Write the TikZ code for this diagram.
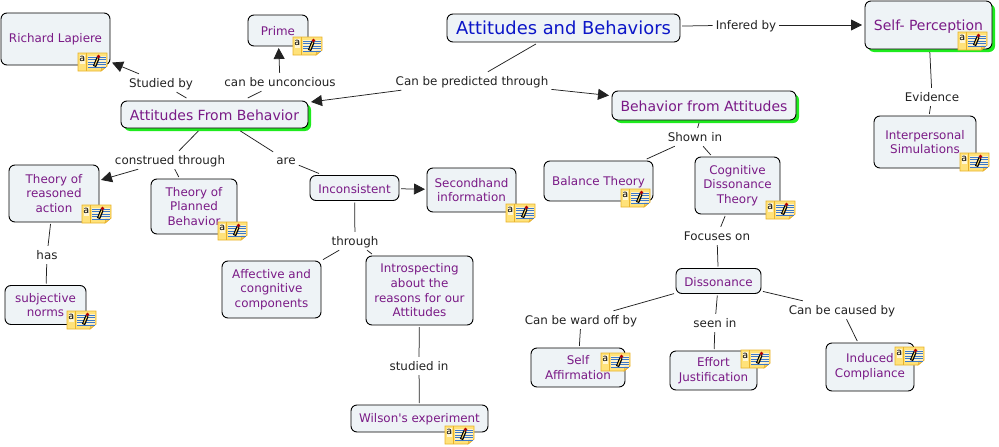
\documentclass[tikz,border=0pt]{standalone}
\usepackage{fontspec}
\setmainfont{DejaVu Sans}
\usetikzlibrary{arrows.meta}
\usetikzlibrary{shadows}
\definecolor{boxfill}{HTML}{EEF3F6}
\definecolor{conceptpurple}{HTML}{7A1A86}
\definecolor{rootblue}{HTML}{0C16C8}
\definecolor{glowgreen}{HTML}{1EEB1E}
\definecolor{noteyellow}{HTML}{FFE27A}
\definecolor{noteedge}{HTML}{E8B22A}
\definecolor{noteline}{HTML}{3C78C8}
\definecolor{linkgray}{HTML}{222222}
\tikzset{
	concept/.style={draw=black,line width=0.9pt,fill=boxfill,rounded corners=6pt,align=center,inner sep=0pt,outer sep=2pt,text=conceptpurple,font=\fontsize{11.9}{14.7}\selectfont},
	oneline/.style={text height=10.5pt},
	glowing/.style={general shadow={fill=glowgreen,shadow xshift=3pt,shadow yshift=-3pt},outer sep=3pt,text height=13pt,font=\fontsize{14}{14.7}\selectfont},
	linkname/.style={inner sep=3pt,text height=10pt,text depth=2pt,text=linkgray,font=\fontsize{11.9}{14.7}\selectfont},
	link/.style={draw=linkgray,line width=0.75pt},
	linkarrow/.style={link,-{Triangle[length=11pt,width=11pt]}},
	noteicon/.pic={
		\path[draw=noteedge,line width=0.9pt,fill=noteyellow] (0,0) -- (29,0) -- (29,13) -- (23,18) -- (0,18) -- cycle;
		\path[draw=noteedge,line width=0.5pt,fill=noteedge!70] (29,13) -- (24,13) -- (23,18) -- cycle;
		\draw[noteedge,line width=0.5pt] (8.5,0) -- (8.5,18);
		\fill[white,opacity=0.6] (10,3) rectangle (27.5,14);
		\foreach \ypos in {4,6.5,9,11.5,14} {
			\draw[noteline,line width=1pt] (10,\ypos) -- (27.5,\ypos);
		}
		\fill[white,opacity=0.7] (1.5,1.5) rectangle (7,11);
		\draw[black,line width=3.4pt] (16.5,13.5) -- (20,5);
		\draw[noteyellow,line width=0.9pt] (16.8,12.5) -- (19.8,5.5);
		\fill[red!70!black] (20.5,3.5) circle (1.9pt);
		\node[inner sep=0pt,text=black,font=\fontsize{9.5}{9.5}\selectfont] (-letter) at (4.2,5.5) {a};
	},
}
\begin{document}
\begin{tikzpicture}[x=1pt,y=-1pt]
	\useasboundingbox (0,0) rectangle (999,447);
	% concepts
	\node[concept,text=rootblue,text height=13pt,minimum width=233pt,minimum height=28pt,font=\fontsize{17.9}{20}\selectfont] (attBehaviors) at (563.5,28) {Attitudes and Behaviors};
	\node[concept,glowing,minimum width=187pt,minimum height=27pt] (attFrom) at (214.5,114.5) {Attitudes From Behavior};
	\node[concept,glowing,minimum width=184pt,minimum height=29pt] (behFrom) at (704,105.5) {Behavior from Attitudes};
	\node[concept,glowing,minimum width=127pt,minimum height=48pt] (selfPerception) at (928.5,25) {Self- Perception};
	\node[concept,minimum width=109pt,minimum height=52pt] (lapiere) at (55.5,39) {Richard Lapiere};
	\node[concept,oneline,minimum width=60pt,minimum height=31pt] (prime) at (278,30.5) {Prime};
	\node[concept,minimum width=102pt,minimum height=52pt] (simulations) at (925,142) {Interpersonal\\Simulations};
	\node[concept,minimum width=90pt,minimum height=57pt] (reasoned) at (54,193.5) {Theory of\\reasoned\\action};
	\node[concept,minimum width=86pt,minimum height=55pt] (planned) at (194,206.5) {Theory of\\Planned\\Behavior};
	\node[concept,oneline,minimum width=89pt,minimum height=25pt] (inconsistent) at (354.5,188) {Inconsistent};
	\node[concept,minimum width=89pt,minimum height=44pt] (secondhand) at (471.5,190) {Secondhand\\information};
	\node[concept,oneline,minimum width=109pt,minimum height=40pt] (balance) at (598.5,181) {Balance Theory};
	\node[concept,minimum width=85pt,minimum height=57pt] (cognitive) at (737.5,185.5) {Cognitive\\Dissonance\\Theory};
	\node[concept,oneline,minimum width=85pt,minimum height=25pt] (dissonance) at (718.5,281) {Dissonance};
	\node[concept,minimum width=99pt,minimum height=57pt] (affective) at (271.5,289.5) {Affective and\\congnitive\\components};
	\node[concept,minimum width=107pt,minimum height=69pt] (introspecting) at (419.5,290.5) {Introspecting\\about the\\reasons for our\\Attitudes};
	\node[concept,minimum width=81pt,minimum height=39pt] (norms) at (45.5,305) {subjective\\norms};
	\node[concept,oneline,minimum width=137pt,minimum height=27pt] (wilson) at (419.5,418.5) {Wilson\textquotesingle s experiment};
	\node[concept,minimum width=94pt,minimum height=39pt] (affirmation) at (578,367.5) {Self\\Affirmation};
	\node[concept,minimum width=87pt,minimum height=39pt] (effort) at (713.5,370.5) {Effort\\Justification};
	\node[concept,minimum width=88pt,minimum height=48pt] (induced) at (870,367) {Induced\\Compliance};
	% link names
	\node[linkname] (studiedBy) at (161,83) {Studied by};
	\node[linkname] (unconcious) at (280,82) {can be unconcious};
	\node[linkname] (predicted) at (472,81) {Can be predicted through};
	\node[linkname] (inferedBy) at (746,25) {Infered by};
	\node[linkname] (evidence) at (932,97) {Evidence};
	\node[linkname] (construed) at (170,160) {construed through};
	\node[linkname] (are) at (286,160) {are};
	\node[linkname] (shownIn) at (695,137) {Shown in};
	\node[linkname] (has) at (47,255) {has};
	\node[linkname] (through) at (355,241) {through};
	\node[linkname] (focuses) at (717,236) {Focuses on};
	\node[linkname] (wardOff) at (581,320) {Can be ward off by};
	\node[linkname] (seenIn) at (715,323) {seen in};
	\node[linkname] (causedBy) at (842,310) {Can be caused by};
	\node[linkname] (studiedIn) at (419,366) {studied in};
	% connectors
	\draw[link] (attBehaviors) -- (predicted);
	\draw[linkarrow] (predicted) -- (attFrom);
	\draw[linkarrow] (predicted) -- (behFrom);
	\draw[link] (attBehaviors) -- (inferedBy);
	\draw[linkarrow] (inferedBy) -- (selfPerception);
	\draw[link] (selfPerception) -- (evidence);
	\draw[link] (evidence) -- (simulations);
	\draw[link] (attFrom) -- (studiedBy);
	\draw[linkarrow] (studiedBy) -- (lapiere);
	\draw[link] (attFrom) -- (unconcious);
	\draw[linkarrow] (unconcious) -- (prime);
	\draw[link] (attFrom) -- (construed);
	\draw[linkarrow] (construed) -- (reasoned);
	\draw[link] (construed) -- (planned);
	\draw[link] (attFrom) -- (are);
	\draw[link] (are) -- (inconsistent);
	\draw[linkarrow] (inconsistent) -- (secondhand);
	\draw[link] (inconsistent) -- (through);
	\draw[link] (through) -- (affective);
	\draw[link] (through) -- (introspecting);
	\draw[link] (introspecting) -- (studiedIn);
	\draw[link] (studiedIn) -- (wilson);
	\draw[link] (reasoned) -- (has);
	\draw[link] (has) -- (norms);
	\draw[link] (behFrom) -- (shownIn);
	\draw[link] (shownIn) -- (balance);
	\draw[link] (shownIn) -- (cognitive);
	\draw[link] (cognitive) -- (focuses);
	\draw[link] (focuses) -- (dissonance);
	\draw[link] (dissonance) -- (wardOff);
	\draw[link] (wardOff) -- (affirmation);
	\draw[link] (dissonance) -- (seenIn);
	\draw[link] (seenIn) -- (effort);
	\draw[link] (dissonance) -- (causedBy);
	\draw[link] (causedBy) -- (induced);
	% note icons
	\pic (noteLapiere) at (78,53) {noteicon};
	\pic (notePrime) at (293,37) {noteicon};
	\pic (noteSelf) at (958,32) {noteicon};
	\pic (noteSimulations) at (960,153) {noteicon};
	\pic (noteReasoned) at (82,205) {noteicon};
	\pic (notePlanned) at (218,222) {noteicon};
	\pic (noteSecondhand) at (506,204) {noteicon};
	\pic (noteBalance) at (621,189) {noteicon};
	\pic (noteCognitive) at (766,201) {noteicon};
	\pic (noteNorms) at (67,311) {noteicon};
	\pic (noteWilson) at (445,426) {noteicon};
	\pic (noteAffirmation) at (601,353) {noteicon};
	\pic (noteEffort) at (741,350) {noteicon};
	\pic (noteInduced) at (895,347) {noteicon};
\end{tikzpicture}
\end{document}
